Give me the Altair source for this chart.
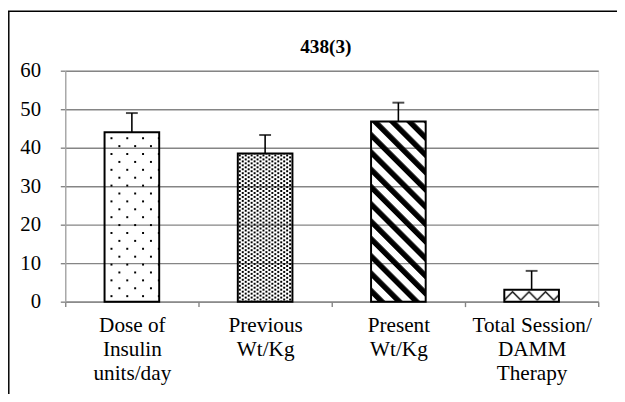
import base64
import altair as alt
import pandas as pd

# ---- data ----
categories = ["Dose of|Insulin|units/day", "Previous|Wt/Kg", "Present|Wt/Kg", "Total Session/|DAMM|Therapy"]
values = [44.0, 38.5, 46.8, 3.1]
errors = [5.0, 4.8, 4.9, 4.9]
y_ticks = [0, 10, 20, 30, 40, 50, 60]
title_text = "438(3)"

FONT = "Times New Roman, Liberation Serif, DejaVu Serif, serif"
GRID = "#858585"


def svg_uri(body):
    svg = '<svg xmlns="http://www.w3.org/2000/svg">' + body + "</svg>"
    return "data:image/svg+xml;base64," + base64.b64encode(svg.encode()).decode()


# fill textures (style only)
pattern_styles = [
    svg_uri('<defs><pattern id="p" x="6" y="5" width="16" height="16" patternUnits="userSpaceOnUse">'
            '<rect width="2" height="2"/><rect x="8" y="8" width="2" height="2"/></pattern></defs>'
            '<rect width="100%" height="100%" fill="url(#p)"/>'),
    svg_uri('<defs><pattern id="p" x="1" y="1" width="6" height="4" patternUnits="userSpaceOnUse">'
            '<rect width="2" height="2"/><rect x="3" y="2" width="2" height="2"/></pattern></defs>'
            '<rect width="100%" height="100%" fill="url(#p)"/>'),
    svg_uri('<defs><pattern id="p" width="12.4" height="12.4" patternUnits="userSpaceOnUse" '
            'patternTransform="rotate(-45)"><rect width="5.5" height="12.4"/></pattern></defs>'
            '<rect width="100%" height="100%" fill="url(#p)"/>'),
    svg_uri('<defs><pattern id="p" width="16.7" height="12" patternUnits="userSpaceOnUse">'
            '<polyline points="0,10.5 8.35,2 16.7,10.5" fill="none" stroke="#000" stroke-width="1.4"/>'
            '</pattern></defs><rect width="100%" height="100%" fill="url(#p)"/>'),
]

df = pd.DataFrame({
    "cat": categories,
    "value": values,
    "top": [v + e for v, e in zip(values, errors)],
    "pat": pattern_styles,
})

x_enc = alt.X(
    "cat:N",
    sort=categories,
    scale=alt.Scale(type="band", paddingInner=0, paddingOuter=0),
    axis=alt.Axis(
        title=None,
        labelExpr="split(datum.label, '|')",
        labelAngle=0,
        labelFont=FONT,
        labelFontSize=21.5,
        labelLineHeight=24.5,
        labelColor="black",
        labelPadding=8,
        tickBand="extent",
        tickSize=5,
        tickColor=GRID,
        tickWidth=1.4,
        domainColor=GRID,
        domainWidth=1.4,
        grid=False,
    ),
)

y_axis = alt.Axis(
    title=None,
    values=y_ticks,
    labelFont=FONT,
    labelFontSize=21,
    labelColor="black",
    labelPadding=20,
    tickSize=5,
    tickColor=GRID,
    tickWidth=1.4,
    domainColor="#a6a6a6",
    domainWidth=1.4,
    gridColor=GRID,
    gridWidth=1.4,
)
y_scale = alt.Scale(domain=[0, 60], nice=False)

base = alt.Chart(df)

images = base.mark_image(aspect=False, width=alt.RelativeBandSize(0.41)).encode(
    x=x_enc,
    y=alt.Y("value:Q", scale=y_scale, axis=y_axis),
    y2=alt.datum(0),
    url="pat:N",
)

bars = base.mark_bar(
    fill="white", fillOpacity=0, stroke="black", strokeWidth=2,
    width=alt.RelativeBandSize(0.41),
).encode(x=x_enc, y=alt.Y("value:Q", scale=y_scale, axis=y_axis), y2=alt.datum(0))

err_line = base.mark_rule(color="black", strokeWidth=1.6).encode(
    x=x_enc, y=alt.Y("value:Q", scale=y_scale, axis=y_axis), y2="top:Q"
)
err_cap = base.mark_tick(orient="horizontal", size=12, thickness=2, color="black").encode(
    x=x_enc, y=alt.Y("top:Q", scale=y_scale, axis=y_axis)
)

frame_df = pd.DataFrame({"k": [0]})
frame_left = alt.Chart(frame_df).mark_rule(color="black", strokeWidth=1.5).encode(
    x=alt.value(-57.2), y=alt.value(-60.2), y2=alt.value(340)
)
frame_top = alt.Chart(frame_df).mark_rule(color="black", strokeWidth=1.5).encode(
    y=alt.value(-60.2), x=alt.value(-58), x2=alt.value(560)
)

chart = alt.layer(images, bars, err_line, err_cap, frame_left, frame_top).properties(
    width=540,
    height=234,
    title=alt.Title(
        title_text, font=FONT, fontSize=19.5, fontWeight="bold", color="black",
        anchor="middle", frame="group", dx=-6, offset=-47,
    ),
    autosize=alt.AutoSizeParams(type="none"),
    padding={"left": 58, "top": 61, "right": 19, "bottom": 91},
).configure_view(stroke=None).configure(background="white")

chart.save("out.html", embed_options={"renderer": "svg", "actions": False})
